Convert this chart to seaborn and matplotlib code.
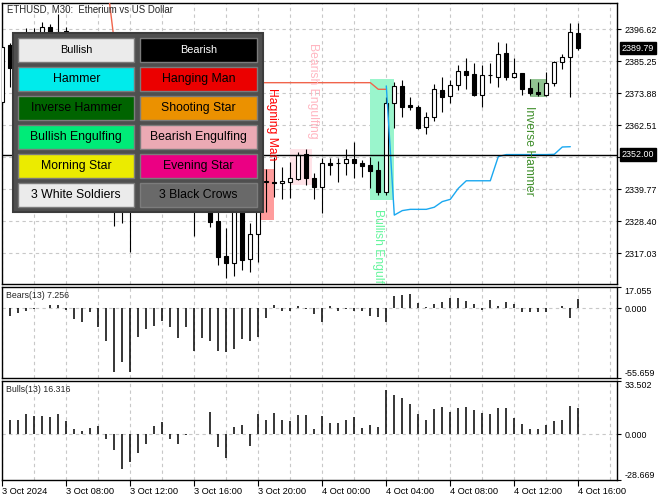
import numpy as np
import pandas as pd
import matplotlib
matplotlib.use("Agg")
import matplotlib.pyplot as plt
import seaborn as sns
from matplotlib.patches import Rectangle
from matplotlib.transforms import Affine2D

# ---------------- data ----------------
time_labels = ["3 Oct 2024", "3 Oct 08:00", "3 Oct 12:00", "3 Oct 16:00", "3 Oct 20:00",
               "4 Oct 00:00", "4 Oct 04:00", "4 Oct 08:00", "4 Oct 12:00", "4 Oct 16:00"]
label_bars = [0, 8, 16, 24, 32, 40, 48, 56, 64, 72]

opens = [2370.8, 2390.9, 2382.7, 2390.5, 2394.0, 2392.0, 2397.2, 2392.0, 2395.9, 2390.0,
         2385.0, 2388.0, 2387.0, 2376.0, 2363.0, 2335.0, 2345.0, 2346.0, 2350.0, 2354.0,
         2364.0, 2355.0, 2348.0, 2345.0, 2352.0, 2340.0, 2348.0, 2328.5, 2316.0, 2313.4,
         2340.0, 2314.8, 2323.7, 2342.2, 2342.3, 2341.8, 2342.1, 2343.3, 2352.2, 2343.6,
         2340.6, 2348.9, 2349.1, 2349.1, 2350.3, 2348.9, 2348.3, 2346.5, 2338.8, 2370.5,
         2376.4, 2369.6, 2369.0, 2361.7, 2365.5, 2375.0, 2372.8, 2376.6, 2381.8, 2380.6,
         2373.3, 2380.2, 2379.7, 2388.0, 2379.7, 2380.9, 2375.5, 2374.2, 2373.2, 2377.3,
         2384.8, 2386.8, 2395.1]
highs = [2391.0, 2391.5, 2392.6, 2397.0, 2397.1, 2399.0, 2398.3, 2401.9, 2397.4, 2392.3,
         2390.8, 2392.2, 2393.0, 2383.2, 2367.0, 2348.8, 2350.7, 2353.4, 2357.0, 2367.0,
         2368.9, 2356.7, 2351.6, 2355.9, 2356.9, 2353.5, 2365.4, 2338.2, 2325.8, 2345.7,
         2341.3, 2327.6, 2349.1, 2347.0, 2351.0, 2347.5, 2349.5, 2353.0, 2353.9, 2345.3,
         2350.7, 2350.7, 2350.9, 2353.9, 2356.6, 2350.1, 2351.3, 2349.7, 2372.6, 2377.9,
         2378.5, 2372.6, 2369.6, 2367.3, 2377.1, 2379.5, 2378.5, 2383.8, 2386.2, 2384.7,
         2383.8, 2384.4, 2391.9, 2391.5, 2386.2, 2380.9, 2378.9, 2377.9, 2381.5, 2385.3,
         2387.6, 2398.6, 2398.6]
lows = [2369.5, 2376.1, 2379.5, 2382.4, 2384.7, 2386.5, 2390.1, 2391.1, 2387.7, 2380.3,
        2377.9, 2384.9, 2372.7, 2360.8, 2326.6, 2327.8, 2317.5, 2342.0, 2346.3, 2348.2,
        2351.4, 2345.4, 2334.2, 2341.9, 2323.0, 2332.0, 2326.1, 2312.7, 2308.0, 2308.9,
        2311.0, 2310.4, 2314.0, 2331.5, 2337.0, 2336.1, 2336.5, 2343.0, 2341.2, 2336.1,
        2331.1, 2344.8, 2342.4, 2344.8, 2343.6, 2343.9, 2340.0, 2337.6, 2337.6, 2361.3,
        2365.2, 2367.8, 2361.0, 2359.3, 2364.1, 2367.3, 2370.2, 2375.0, 2375.2, 2372.8,
        2369.0, 2377.6, 2376.1, 2378.5, 2379.1, 2373.2, 2373.2, 2372.8, 2372.8, 2376.4,
        2382.3, 2372.6, 2389.2]
closes = [2390.3, 2382.7, 2390.5, 2394.0, 2392.0, 2397.5, 2392.0, 2395.7, 2390.0, 2385.0,
          2388.0, 2387.0, 2376.0, 2363.0, 2335.0, 2345.0, 2346.0, 2350.0, 2354.0, 2364.0,
          2355.0, 2348.0, 2345.0, 2352.0, 2340.0, 2348.0, 2328.2, 2315.7, 2313.4, 2340.0,
          2314.5, 2323.7, 2342.4, 2342.5, 2342.0, 2342.5, 2343.6, 2351.9, 2343.6, 2340.6,
          2348.9, 2348.3, 2349.0, 2350.3, 2348.9, 2347.9, 2346.3, 2338.8, 2370.2, 2376.4,
          2369.0, 2369.0, 2361.6, 2365.5, 2375.2, 2372.3, 2376.6, 2381.8, 2380.4, 2373.2,
          2380.2, 2380.25, 2387.6, 2379.7, 2380.9, 2375.4, 2374.0, 2373.4, 2377.3, 2384.8,
          2386.8, 2395.7, 2389.79]

bears = [-3.0, -6.6, -4.0, -1.9, -0.8, 0.0, 2.6, 2.6, -1.3, -8.7,
         -10.6, -3.4, -15.3, -25.7, -50.3, -42.9, -50.3, -23.0, -16.7, -13.8,
         -10.1, -14.6, -23.8, -14.6, -33.9, -23.8, -25.7, -33.6, -34.4, -32.5,
         -24.3, -25.7, -22.5, -7.9, 2.6, -2.1, -2.6, 2.1, -0.5, -4.8,
         -11.1, 1.9, -2.6, -0.3, -2.6, -1.9, -6.1, -7.1, -10.8, 9.3,
         10.6, 11.4, 4.0, 1.3, 3.4, 5.0, 7.9, 7.9, 6.1, 3.4,
         -1.3, 6.6, 1.9, 5.0, 3.4, -3.4, -3.4, -3.4, -3.4, 0.3,
         1.9, -7.9, 7.256]
bulls = [8.0, 9.1, 9.1, 12.8, 11.6, 11.6, 10.5, 12.8, 8.5, 3.3,
         2.3, 3.9, 5.0, -3.3, -9.9, -21.9, -17.1, -11.6, -6.0, 5.0,
         7.4, -3.3, -6.4, -0.6, 0.0, 0.0, 13.6, -8.1, -15.1, 4.3,
         6.0, -7.4, 12.6, 9.1, 13.2, 9.1, 8.1, 12.2, 12.2, 3.5,
         11.2, 6.8, 6.8, 8.9, 11.0, 4.1, 5.8, 4.8, 27.5, 24.4,
         22.9, 19.2, 12.6, 8.9, 15.7, 17.1, 14.0, 16.7, 17.1, 15.1,
         13.0, 12.6, 16.7, 16.3, 10.3, 6.2, 3.3, 3.3, 5.8, 8.3,
         8.9, 17.6, 16.316]

red_start = 13
red_line = [2415.4, 2392.0, 2385.0] + [2377.55] * 31 + [2375.2, 2375.2]
blue_start = 48
blue_line = [2376.4, 2330.5, 2332.1, 2332.55, 2332.55, 2332.55, 2333.3, 2335.3, 2336.1, 2340.0,
             2342.7, 2342.7, 2342.7, 2342.7, 2351.3, 2352.0, 2352.0, 2352.0, 2352.0, 2352.0,
             2352.0, 2352.1, 2354.7, 2354.8]

price_ticks = [2317.03, 2328.40, 2339.77, 2351.14, 2362.51, 2373.88, 2385.25, 2396.62]
last_price = 2389.79
level_price = 2352.00
bears_ticks = [-55.659, 0.0, 17.055]
bulls_ticks = [-28.669, 0.0, 33.502]
bears_title = "Bears(13) 7.256"
bulls_title = "Bulls(13) 16.316"
chart_title = "ETHUSD, M30:  Etherium vs US Dollar"

legend_left = ["Bullish", "Hammer", "Inverse Hammer", "Bullish Engulfing", "Morning Star", "3 White Soldiers"]
legend_right = ["Bearish", "Hanging Man", "Shooting Star", "Bearish Engulfing", "Evening Star", "3 Black Crows"]

# pattern boxes: (bar from, bar to, price low, price high)
pattern_boxes = [(36.0, 38.7, 2341.2, 2353.9), (32.0, 34.0, 2328.8, 2346.9),
                 (46.0, 49.0, 2335.9, 2378.9), (66.0, 68.0, 2372.6, 2378.9)]
# pattern labels: (bar, price at top, text)
pattern_texts = [(33.7, 2375.7, "Hagning Man"), (38.8, 2391.6, "Bearish Engulfing"),
                 (47.0, 2332.6, "Bullish Engulfing"), (65.8, 2369.3, "Inverse Hammer")]

# ---------------- styles ----------------
legend_left_colors = ["#EBEBEB", "#00EBEB", "#006400", "#00EB78", "#EBEB00", "#EBEBEB"]
legend_right_colors = ["#000000", "#EB0000", "#EB9100", "#EBAAB4", "#EB0083", "#696969"]
box_colors = ["#FFE3E8", "#FF9C9C", "#9AF5CC", "#92C492"]
text_colors = ["#FF0000", "#FFB6C1", "#66F59E", "#3E8E2A"]
GRID = "#C8C8C8"

sns.set_theme(style="white")
plt.rcParams['font.family'] = ['Liberation Sans', 'DejaVu Sans']

W, H = 670, 500
fig = plt.figure(figsize=(W / 100, H / 100), dpi=100)
fig.patch.set_facecolor("white")


def rect(l, t, r, b):
    return [l / W, 1 - b / H, (r - l) / W, (b - t) / H]


ax = fig.add_axes(rect(2.3, 3, 617.3, 284))
axb = fig.add_axes(rect(2.3, 286.7, 617.3, 378.3))
axu = fig.add_axes(rect(2.3, 380.7, 617.3, 480))

n = len(opens)
idx = np.arange(n)
o = np.array(opens); h = np.array(highs); l = np.array(lows); c = np.array(closes)
XL = (0, 76.875)

for a in (ax, axb, axu):
    a.set_facecolor("white")
    a.set_xlim(*XL)
    for s in a.spines.values():
        s.set_color("black")
        s.set_linewidth(1.0)
    for b in range(0, 77, 4):
        a.axvline(b, color=GRID, lw=0.8, ls=(0, (3, 3)), zorder=0.5)
    a.yaxis.tick_right()
    a.tick_params(axis="y", which="both", direction="out", length=3, width=0.8,
                  pad=2, labelsize=6.4, colors="black", right=True, left=False)
    a.grid(False)

# ---- main chart ----
ax.set_ylim(2306.02, 2405.86)
for p in price_ticks:
    ax.axhline(p, color=GRID, lw=0.8, ls=(0, (3, 3)), zorder=0.5)
ax.set_yticks(price_ticks)
# the tick nearest the level line is hidden under its price box in the reference
ax.set_yticklabels(["" if abs(p - level_price) < 2 else f"{p:.2f}" for p in price_ticks])
ax.set_xticks([])

for (x0, x1, lo, hi), col in zip(pattern_boxes, box_colors):
    ax.add_patch(Rectangle((x0, lo), x1 - x0, hi - lo, facecolor=col, edgecolor="none", zorder=1))

ax.vlines(idx, l, h, color="black", lw=0.8, zorder=3)
up = c >= o
ax.bar(idx[up], np.maximum(c[up] - o[up], 0.05), bottom=o[up], width=0.52,
       facecolor="white", edgecolor="black", linewidth=0.8, zorder=4)
ax.bar(idx[~up], o[~up] - c[~up], bottom=c[~up], width=0.52,
       facecolor="black", edgecolor="black", linewidth=0.8, zorder=4)

red_df = pd.DataFrame({"bar": np.arange(red_start, red_start + len(red_line)), "v": red_line})
blue_df = pd.DataFrame({"bar": np.arange(blue_start, blue_start + len(blue_line)), "v": blue_line})
sns.lineplot(data=red_df, x="bar", y="v", ax=ax, color="#F0644B", lw=1.0, zorder=4.5,
             estimator=None, sort=False)
sns.lineplot(data=blue_df, x="bar", y="v", ax=ax, color="#1AA8F0", lw=1.0, zorder=4.5,
             estimator=None, sort=False)
ax.set_xlabel(""); ax.set_ylabel("")
ax.set_xlim(*XL)

ax.axhline(level_price, color="black", lw=1.0, zorder=5)

for (bx, py, txt), col in zip(pattern_texts, text_colors):
    ax.text(bx, py, txt, rotation=270, ha="center", va="top", color=col,
            fontsize=8.7, zorder=7, clip_on=True)

ytr = ax.get_yaxis_transform()
for val in (last_price, level_price):
    ax.text(1.0073, val, f"{val:.2f}", transform=ytr, ha="left", va="center",
            fontsize=6.4, color="white", zorder=20, clip_on=False,
            bbox=dict(boxstyle="square,pad=0.18", fc="black", ec="black"))

# ---- bears ----
axb.set_ylim(bears_ticks[0], bears_ticks[-1])
axb.axhline(0, color=GRID, lw=0.8, ls=(0, (3, 3)), zorder=0.5)
axb.vlines(idx, 0, bears, color="black", lw=1.1, zorder=3)
axb.set_yticks(bears_ticks)
axb.set_yticklabels([f"{v:.3f}" for v in bears_ticks])
labs = axb.get_yticklabels()
labs[0].set_va("bottom"); labs[-1].set_va("top")
axb.set_xticks([])
axb.text(0.006, 0.9, bears_title, transform=axb.transAxes, fontsize=6.3, ha="left", va="center")

# ---- bulls ----
axu.set_ylim(bulls_ticks[0], bulls_ticks[-1])
axu.axhline(0, color=GRID, lw=0.8, ls=(0, (3, 3)), zorder=0.5)
axu.vlines(idx, 0, bulls, color="black", lw=1.1, zorder=3)
axu.set_yticks(bulls_ticks)
axu.set_yticklabels([f"{v:.3f}" for v in bulls_ticks])
labs = axu.get_yticklabels()
labs[0].set_va("bottom"); labs[-1].set_va("top")
axu.set_xticks(label_bars)
axu.set_xticklabels(time_labels, ha="left")
axu.tick_params(axis="x", direction="out", length=4, width=0.8, pad=1.0,
                labelsize=6.7, colors="black", bottom=True)
axu.text(0.006, 0.915, bulls_title, transform=axu.transAxes, fontsize=6.3, ha="left", va="center")

# ---- title ----
pix = Affine2D().scale(1 / W, -1 / H).translate(0, 1) + fig.transFigure
fig.text(6.7, 9.5, chart_title, transform=pix, fontsize=6.9, ha="left", va="center", zorder=30)

# ---- legend panel ----
fig.add_artist(Rectangle((13.3, 33.3), 249.2, 179.0, transform=pix, facecolor="#4F4F4F",
                         edgecolor="#3C3C3C", lw=1.5, zorder=40))
cols_x = [(18.3, 134.3), (140.0, 256.7)]
for ci, (names, colors) in enumerate(((legend_left, legend_left_colors),
                                      (legend_right, legend_right_colors))):
    x0, x1 = cols_x[ci]
    for r, (name, col) in enumerate(zip(names, colors)):
        top = 38.3 + 29.0 * r
        fig.add_artist(Rectangle((x0, top), x1 - x0, 23.3, transform=pix, facecolor=col,
                                 edgecolor="#7C7C7C", lw=1.0, zorder=41))
        small = r == 0
        tcol = "white" if col == "#000000" else "black"
        fig.text((x0 + x1) / 2, top + 11.9, name, transform=pix, ha="center", va="center",
                 fontsize=7.8 if small else 8.8, color=tcol, zorder=42)

fig.savefig("out.png", dpi=100, facecolor="white")
